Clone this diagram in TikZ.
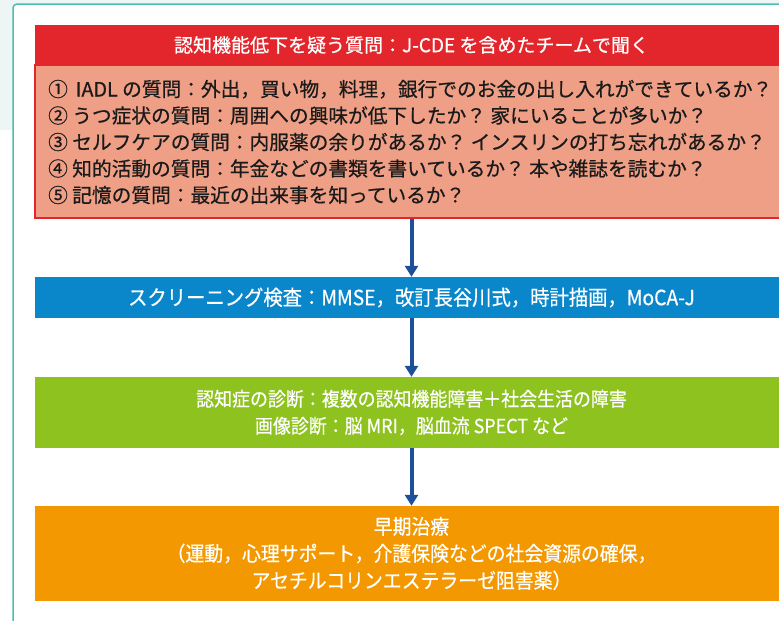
\documentclass[tikz,border=0pt]{standalone}
\usepackage{fontspec}
\setmainfont{Noto Sans CJK JP}[FakeBold=0.6]
\newfontfamily\condfont{Noto Sans CJK JP}[FakeStretch=0.92,FakeBold=0.5]
\usetikzlibrary{arrows.meta}
\definecolor{bgc}{HTML}{EEF6F5}
\definecolor{framec}{HTML}{4DBDB3}
\definecolor{redc}{HTML}{E3262B}
\definecolor{salmonc}{HTML}{EE9F86}
\definecolor{bluec}{HTML}{0A87CB}
\definecolor{greenc}{HTML}{8DC21F}
\definecolor{orangec}{HTML}{F39800}
\definecolor{arrowc}{HTML}{1E4F9B}
\definecolor{textc}{HTML}{1A1A1A}
\tikzset{
  band/.style={minimum width=753pt, inner sep=0pt, text=white, align=center},
  qtext/.style={anchor=base west, inner sep=0pt, text=textc, font=\fontsize{19.7pt}{26pt}\selectfont},
  flowarrow/.style={draw=arrowc, line width=4pt, -{Triangle[width=13pt,length=11pt]}}
}
\begin{document}
\begin{tikzpicture}[x=1pt,y=-1pt]
\clip (0,0) rectangle (779,621);
\fill[bgc] (0,0) rectangle (779,130);
\draw[framec, line width=1.5pt, fill=white, rounded corners=4pt] (13,4) rectangle (830,680);
% question block
\node[band, draw=redc, line width=2pt, fill=salmonc, minimum height=153pt] (body) at (411.5,141.5) {};
\node[band, fill=redc, minimum height=40pt, font=\fontsize{19pt}{24pt}\selectfont] (hdr) at (411.5,45) {認知機能低下を疑う質問：J-CDE を含めたチームで聞く};
\node[qtext] (q1) at (48,96.5) {①\hspace{0.4em}IADL の質問：外出，買い物，料理，銀行でのお金の出し入れができているか？};
\node[qtext] (q2) at (48,123) {② うつ症状の質問：周囲への興味が低下したか？ 家にいることが多いか？};
\node[qtext] (q3) at (48,149.5) {③ セルフケアの質問：内服薬の余りがあるか？ インスリンの打ち忘れがあるか？};
\node[qtext] (q4) at (48,176) {④ 知的活動の質問：年金などの書類を書いているか？ 本や雑誌を読むか？};
\node[qtext] (q5) at (48,202.5) {⑤ 記憶の質問：最近の出来事を知っているか？};
% screening
\node[band, fill=bluec, minimum height=41pt, font=\condfont\fontsize{21pt}{27pt}\selectfont] (scr) at (411.5,297.5) {スクリーニング検査：MMSE，改訂長谷川式，時計描画，MoCA-J};
% diagnosis
\node[band, fill=greenc, minimum height=71pt, font=\condfont\fontsize{19.5pt}{27pt}\selectfont] (diag) at (411.5,412.5) {認知症の診断：複数の認知機能障害＋社会生活の障害\\画像診断：脳 MRI，脳血流 SPECT など};
% treatment
\node[band, fill=orangec, minimum height=95pt, font=\condfont\fontsize{20.5pt}{27pt}\selectfont] (trt) at (411.5,553.5) {早期治療\\（運動，心理サポート，介護保険などの社会資源の確保，\\アセチルコリンエステラーゼ阻害薬）};
% arrows
\draw[flowarrow] (body.south) -- (scr.north);
\draw[flowarrow] (scr.south) -- (diag.north);
\draw[flowarrow] (diag.south) -- (trt.north);
\end{tikzpicture}
\end{document}
